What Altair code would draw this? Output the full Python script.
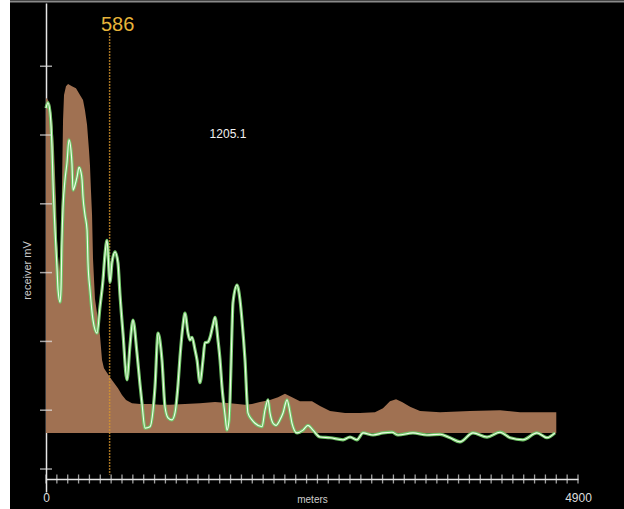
import altair as alt
import pandas as pd

# ---- data (meters, mV) ----
area_m = [0, 18, 37, 55, 74, 92, 101, 120, 138, 147, 157, 166, 184, 203, 239, 276, 313, 341, 359, 378,
          396, 405, 414, 424, 433, 451, 479, 497, 516, 534, 589, 626, 663, 700, 737, 792, 866, 958, 1050, 1142,
          1280, 1418, 1557, 1695, 1833, 1897, 1971, 2063, 2137, 2201, 2266, 2339, 2450, 2524, 2616, 2754, 2892, 3030, 3104, 3168,
          3224, 3279, 3353, 3445, 3629, 3905, 4182, 4366, 4550, 4700]
area_mv = [5.54, 5.51, 5.44, 5.25, 4.78, 4.06, 3.47, 3.01, 3.47, 4.20, 5.22, 5.58, 5.71, 5.74, 5.71, 5.68, 5.58, 5.51, 5.36, 5.15,
           4.78, 4.56, 4.20, 3.84, 3.20, 2.62, 2.31, 2.09, 1.73, 1.61, 1.48, 1.40, 1.32, 1.22, 1.15, 1.10, 1.09, 1.09, 1.08, 1.08,
           1.09, 1.10, 1.12, 1.10, 1.08, 1.09, 1.12, 1.15, 1.19, 1.24, 1.19, 1.13, 1.13, 1.06, 0.99, 0.96, 0.96, 0.97, 1.03, 1.13,
           1.16, 1.12, 1.05, 0.99, 0.97, 0.99, 1.00, 0.97, 0.97, 0.97]
area_base = 0.67

line_m = [0, 18, 37, 55, 64, 83, 101, 111, 129, 138,
          147, 157, 175, 193, 212, 230, 239, 249, 267, 286,
          304, 322, 332, 341, 359, 378, 387, 405, 433, 470,
          497, 525, 543, 562, 589, 608, 636, 663, 682, 709,
          746, 774, 801, 838, 866, 884, 912, 958, 986, 1004,
          1032, 1068, 1096, 1124, 1161, 1188, 1216, 1234, 1262, 1280,
          1308, 1326, 1345, 1372, 1391, 1418, 1446, 1464, 1492, 1511,
          1538, 1557, 1584, 1603, 1621, 1649, 1667, 1686, 1695, 1713,
          1722, 1759, 1787, 1805, 1833, 1860, 1897, 1925, 1989, 2017,
          2045, 2063, 2091, 2118, 2155, 2183, 2220, 2247, 2266, 2312,
          2367, 2413, 2459, 2524, 2616, 2736, 2800, 2864, 2920, 3012,
          3104, 3187, 3242, 3380, 3509, 3629, 3721, 3813, 3933, 4062,
          4182, 4274, 4393, 4522, 4614, 4688]
line_mv = [5.39, 5.47, 5.33, 4.83, 4.35, 3.62, 3.08, 2.75, 2.57, 2.75,
           3.47, 3.95, 4.35, 4.59, 4.93, 4.78, 4.59, 4.20, 4.27, 4.39,
           4.53, 4.46, 4.35, 4.10, 3.84, 3.62, 3.14, 2.75, 2.31, 2.12,
           2.50, 2.89, 3.26, 3.47, 2.86, 3.15, 3.30, 3.14, 2.67, 2.12,
           1.44, 1.95, 2.31, 1.83, 1.37, 1.10, 0.74, 0.76, 1.00, 1.34,
           2.12, 1.73, 1.05, 0.89, 0.86, 0.96, 1.37, 1.77, 2.24, 2.41,
           2.12, 2.02, 2.06, 1.88, 1.73, 1.40, 1.73, 1.98, 1.99, 2.06,
           2.24, 2.35, 2.02, 1.73, 1.34, 0.93, 0.71, 0.86, 1.15, 2.17,
           2.56, 2.82, 2.60, 2.31, 1.73, 0.96, 0.86, 0.81, 0.76, 1.00,
           1.15, 0.96, 0.81, 0.78, 0.86, 0.96, 1.15, 0.97, 0.81, 0.67,
           0.71, 0.78, 0.71, 0.61, 0.60, 0.57, 0.61, 0.57, 0.67, 0.64,
           0.67, 0.68, 0.64, 0.67, 0.64, 0.65, 0.60, 0.54, 0.67, 0.61,
           0.68, 0.60, 0.57, 0.67, 0.60, 0.67]

x_ticks = list(range(0, 4901, 100))
x_labels = [0, 4900]
y_ticks = [0.145, 1, 2, 3, 4, 5, 6]

marker_m = 586
marker_label = "586"
marker_top, marker_bottom = 6.48, 0.06
marker_text_mv = 6.60

value_label = "1205.1"
value_label_m = 1676
value_label_mv = 5.01

X_DOMAIN = [0, 4900]
Y_DOMAIN = [-0.189, 6.919]

FONT = "Liberation Sans"

area_df = pd.DataFrame({"m": area_m, "mv": area_mv})
line_df = pd.DataFrame({"m": line_m, "mv": line_mv})
xt_df = pd.DataFrame({"m": x_ticks})
yt_df = pd.DataFrame({"mv": y_ticks})

xs = alt.Scale(domain=X_DOMAIN, nice=False, zero=False)
ys = alt.Scale(domain=Y_DOMAIN, nice=False, zero=False)

x_axis = alt.Axis(values=x_labels, format="d", ticks=False, grid=False, offset=-13,
                  labelFlush=False, labelColor="#dddddd", labelFontSize=12,
                  labelPadding=13, labelFont=FONT,
                  title="meters", titleColor="#cccccc", titleFontSize=10,
                  titleFontWeight="normal", titleFont=FONT, titleY=20,
                  titleBaseline="middle",
                  domainColor="#e6e6e6", domainWidth=1.5)
y_axis = alt.Axis(labels=False, ticks=False, grid=False,
                  title="receiver  mV", titleColor="#cccccc", titleFontSize=11,
                  titleFontWeight="normal", titleFont=FONT,
                  titleX=-19, titleY=267, titleAngle=270,
                  titleBaseline="middle", titleAlign="center",
                  domainColor="#e6e6e6", domainWidth=1.5)

area = alt.Chart(area_df).mark_area(color="#a07152", opacity=1, interpolate="linear").encode(
    x=alt.X("m:Q", scale=xs, axis=x_axis),
    y=alt.Y("mv:Q", scale=ys, axis=y_axis),
    y2=alt.datum(area_base),
)

marker = alt.Chart(pd.DataFrame({"m": [marker_m]})).mark_rule(
    color="#d8962c", strokeDash=[1.5, 1.5], strokeWidth=1.5
).encode(
    x=alt.X("m:Q", scale=xs),
    y=alt.datum(marker_top),
    y2=alt.datum(marker_bottom),
)

line_outer = alt.Chart(line_df).mark_line(color="#6fc466", strokeWidth=3.2, interpolate="monotone").encode(
    x=alt.X("m:Q", scale=xs), y=alt.Y("mv:Q", scale=ys))
line_inner = alt.Chart(line_df).mark_line(color="#eefde8", strokeWidth=1.1, interpolate="monotone").encode(
    x=alt.X("m:Q", scale=xs), y=alt.Y("mv:Q", scale=ys))

xticks = alt.Chart(xt_df).mark_tick(orient="vertical", size=9, thickness=1.3, color="#e6e6e6").encode(
    x=alt.X("m:Q", scale=xs), y=alt.datum(0))
yticks = alt.Chart(yt_df).mark_tick(orient="horizontal", size=12, thickness=1.5, color="#e6e6e6").encode(
    x=alt.datum(0), y=alt.Y("mv:Q", scale=ys))

marker_text = alt.Chart(pd.DataFrame({"m": [marker_m], "t": [marker_label]})).mark_text(
    color="#e8b43a", fontSize=20, font=FONT, dx=8, baseline="middle", align="center"
).encode(x=alt.X("m:Q", scale=xs), y=alt.datum(marker_text_mv), text="t:N")

val_text = alt.Chart(pd.DataFrame({"m": [value_label_m], "t": [value_label]})).mark_text(
    color="#f2f2f2", fontSize=12, font=FONT, baseline="middle", align="center"
).encode(x=alt.X("m:Q", scale=xs), y=alt.datum(value_label_mv), text="t:N")

# decoration: white strip at left edge and grey line at top of the screenshot frame
strip = alt.Chart(pd.DataFrame({"k": [0]})).mark_rect(color="white").encode(
    x=alt.value(-46), x2=alt.value(-36), y=alt.value(-3), y2=alt.value(506))
topline = alt.Chart(pd.DataFrame({"k": [0]})).mark_rule(color="#8a8a8a", strokeWidth=2).encode(
    x=alt.value(-36), x2=alt.value(578), y=alt.value(-1.5))

chart = alt.layer(area, marker, line_outer, line_inner, xticks, yticks, marker_text, val_text,
                  strip, topline).properties(
    width=532, height=489,
    autosize=alt.AutoSizeParams(type="none"),
    padding={"left": 46, "top": 3, "right": 46, "bottom": 17},
    background="black",
).configure_view(strokeWidth=0)

chart.save("out.html", embed_options={"renderer": "svg", "actions": False})
